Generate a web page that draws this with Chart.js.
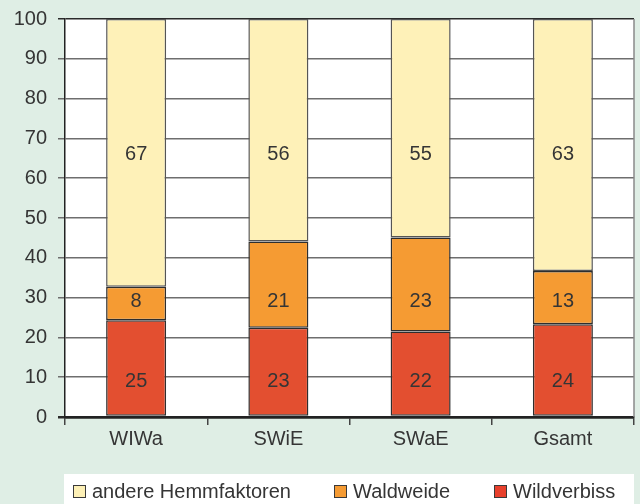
<!DOCTYPE html>
<html><head><meta charset="utf-8">
<script src="https://cdn.jsdelivr.net/npm/chart.js@4/dist/chart.umd.min.js"></script>
<style>html,body{margin:0;padding:0;background:#dfeee5;}#w{width:640px;height:504px;}</style>
</head><body><div id="w"><canvas id="c" width="640" height="504"></canvas></div>
<script>
const categories = ['WIWa', 'SWiE', 'SWaE', 'Gsamt'];
const wildverbiss = [24.3, 22.4, 21.5, 23.3];
const waldweide = [8.4, 21.7, 23.6, 13.4];
const andere = [67.3, 55.9, 54.9, 63.3];
const wildverbissLabels = ['25', '23', '22', '24'];
const waldweideLabels = ['8', '21', '23', '13'];
const andereLabels = ['67', '56', '55', '63'];
const yTicks = [0, 10, 20, 30, 40, 50, 60, 70, 80, 90, 100];

const FONT = '"Liberation Sans", Arial, sans-serif';
const TXT = '#353535';

const bgPlugin = {
  id: 'bg',
  beforeDraw(chart) {
    const {ctx, chartArea: a} = chart;
    ctx.save();
    ctx.fillStyle = '#dfeee5';
    ctx.fillRect(0, 0, chart.width, chart.height);
    ctx.fillStyle = '#ffffff';
    ctx.fillRect(a.left, a.top, a.right - a.left, a.bottom - a.top);
    ctx.restore();
  },
  afterDraw(chart) {
    const {ctx, chartArea: a} = chart;
    ctx.save();
    ctx.strokeStyle = '#8a8a8a';
    ctx.lineWidth = 1.5;
    ctx.beginPath();
    ctx.moveTo(a.right, a.top);
    ctx.lineTo(a.right, a.bottom);
    ctx.stroke();
    ctx.font = '20px ' + FONT;
    ctx.fillStyle = TXT;
    ctx.textAlign = 'center';
    ctx.textBaseline = 'middle';
    const ys = chart.scales.y;
    chart.data.datasets.forEach((ds, i) => {
      const meta = chart.getDatasetMeta(i);
      meta.data.forEach((el, j) => {
        ctx.fillText(ds.valueLabels[j], el.x, ys.getPixelForValue(ds.labelAt));
      });
    });
    const top = 474, h = chart.height - top;
    ctx.fillStyle = '#ffffff';
    ctx.fillRect(a.left - 1, top, a.right - a.left + 1, h);
    const order = [2, 1, 0];
    const xs = [73, 334, 494];
    ctx.textAlign = 'left';
    ctx.textBaseline = 'middle';
    order.forEach((di, k) => {
      const ds = chart.data.datasets[di];
      const x = xs[k], y = 485;
      ctx.fillStyle = ds.legendColor;
      ctx.fillRect(x, y, 13, 13);
      ctx.strokeStyle = '#3a3a3a';
      ctx.lineWidth = 1;
      ctx.strokeRect(x + 0.5, y + 0.5, 12, 12);
      ctx.fillStyle = TXT;
      ctx.fillText(ds.label, x + 19, y + 7);
    });
    ctx.restore();
  }
};

new Chart(document.getElementById('c'), {
  type: 'bar',
  data: {
    labels: categories,
    datasets: [
      {label: 'Wildverbiss', data: wildverbiss, valueLabels: wildverbissLabels, labelAt: 8.8,
       backgroundColor: '#e34f30', legendColor: '#e8402c', borderColor: '#2e2e2e', borderWidth: 1.5, borderSkipped: false},
      {label: 'Waldweide', data: waldweide, valueLabels: waldweideLabels, labelAt: 29,
       backgroundColor: '#f59b33', legendColor: '#f59b33', borderColor: '#2e2e2e', borderWidth: 1.5, borderSkipped: false},
      {label: 'andere Hemmfaktoren', data: andere, valueLabels: andereLabels, labelAt: 66,
       backgroundColor: '#fef1b8', legendColor: '#fdf0b6', borderColor: '#555', borderWidth: 1.5, borderSkipped: false}
    ]
  },
  options: {
    responsive: false,
    animation: false,
    devicePixelRatio: 1,
    layout: {padding: {top: 19, right: 6, left: 0, bottom: 0}},
    plugins: {legend: {display: false}, tooltip: {enabled: false}},
    datasets: {bar: {barPercentage: 0.422, categoryPercentage: 1}},
    scales: {
      x: {
        stacked: true,
        afterFit(s) { s.height = 87; },
        grid: {offset: true, drawOnChartArea: false, drawTicks: true, tickLength: 8, color: '#444', lineWidth: 1.5},
        border: {display: true, color: '#222', width: 2.5},
        ticks: {font: {size: 20, family: FONT}, color: TXT, padding: 2}
      },
      y: {
        stacked: true,
        min: 0, max: 100,
        afterFit(s) { s.width = 65; s.paddingTop = 0; },
        afterBuildTicks(s) { s.ticks = yTicks.map(v => ({value: v})); },
        grid: {
          color: ctx => (ctx.tick && (ctx.tick.value === 0 || ctx.tick.value === 100)) ? '#2a2a2a' : '#6e6e6e',
          lineWidth: ctx => (ctx.tick && ctx.tick.value === 0) ? 2.5 : 1.5,
          tickLength: 7, drawTicks: true
        },
        border: {display: true, color: '#222', width: 1.5},
        ticks: {font: {size: 20, family: FONT}, color: TXT, padding: 11}
      }
    }
  },
  plugins: [bgPlugin]
});
</script></body></html>
